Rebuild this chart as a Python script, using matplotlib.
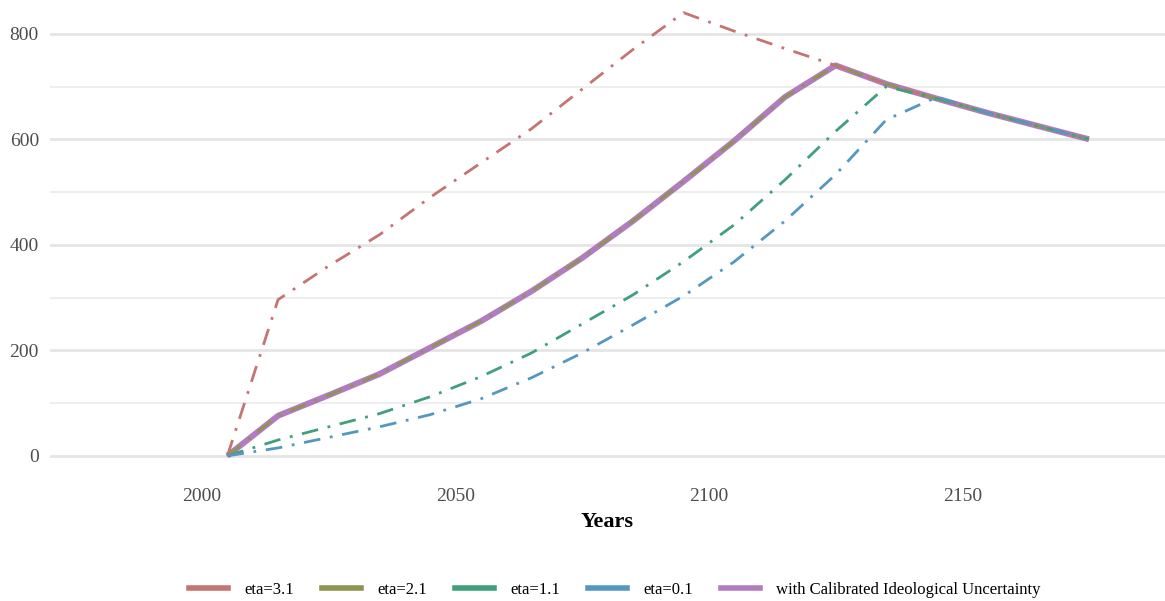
import matplotlib
matplotlib.use("Agg")
import matplotlib.pyplot as plt
from matplotlib.lines import Line2D

plt.rcParams['font.family'] = ['Liberation Serif', 'DejaVu Serif']

years = [2005, 2015, 2025, 2035, 2045, 2055, 2065, 2075, 2085, 2095,
         2105, 2115, 2125, 2135, 2145, 2155, 2165, 2175]

eta31 = [0, 296, 360, 419, 490, 555, 620, 695, 770, 840,
         805, 772, 740, 705, 677, 650, 625, 600]
eta21 = [0, 76, 115, 155, 205, 255, 312, 375, 445, 520,
         597, 680, 740, 705, 677, 650, 625, 600]
eta11 = [0, 30, 55, 80, 112, 150, 195, 250, 305, 368,
         438, 523, 615, 700, 677, 650, 625, 600]
eta01 = [0, 15, 35, 55, 78, 108, 148, 195, 248, 303,
         368, 445, 533, 637, 680, 650, 625, 600]
calibrated = [0, 76, 115, 155, 205, 255, 312, 375, 445, 520,
              597, 680, 740, 705, 677, 650, 625, 600]

labels = ["eta=3.1", "eta=2.1", "eta=1.1", "eta=0.1",
          "with Calibrated Ideological Uncertainty"]
colors = ["#C57472", "#8F9450", "#3FA07A", "#5497C0", "#B17CC0"]

fig = plt.figure(figsize=(11.65, 6.01), dpi=100)
ax = fig.add_axes([50/1165, 1 - 478/601, 1115/1165, 478/601])

ax.plot(years, calibrated, color=colors[4], lw=4.3, solid_capstyle='butt', zorder=2)
for vals, c in zip([eta31, eta21, eta11, eta01], colors[:4]):
    ax.plot(years, vals, color=c, lw=2.0, ls=(0, (6, 3.5, 1, 3.5)), zorder=3)

ax.set_xlim(1970, 2190)
ax.set_ylim(-42, 864)
ax.set_xticks([2000, 2050, 2100, 2150])
ax.set_yticks([0, 200, 400, 600, 800])
ax.set_yticks([100, 300, 500, 700], minor=True)
ax.grid(axis='y', which='major', color='#E5E5E5', lw=2.0)
ax.grid(axis='y', which='minor', color='#EBEBEB', lw=1.2)
ax.grid(axis='x', visible=False)
ax.set_axisbelow(True)
for s in ax.spines.values():
    s.set_visible(False)
ax.tick_params(axis='both', which='both', length=0, labelsize=14, colors='#4D4D4D')
ax.tick_params(axis='y', pad=8)
ax.tick_params(axis='x', pad=7)
ax.set_xlabel("Years", fontsize=16, fontweight='bold', labelpad=5)

handles = [Line2D([0], [0], color=c, lw=4) for c in colors]
fig.legend(handles, labels, loc='center', bbox_to_anchor=(615/1165, 1 - 590/601),
           ncol=5, frameon=False, fontsize=12, handlelength=2.3,
           columnspacing=1.7, handletextpad=1.0)

fig.savefig("out.png", dpi=100)
